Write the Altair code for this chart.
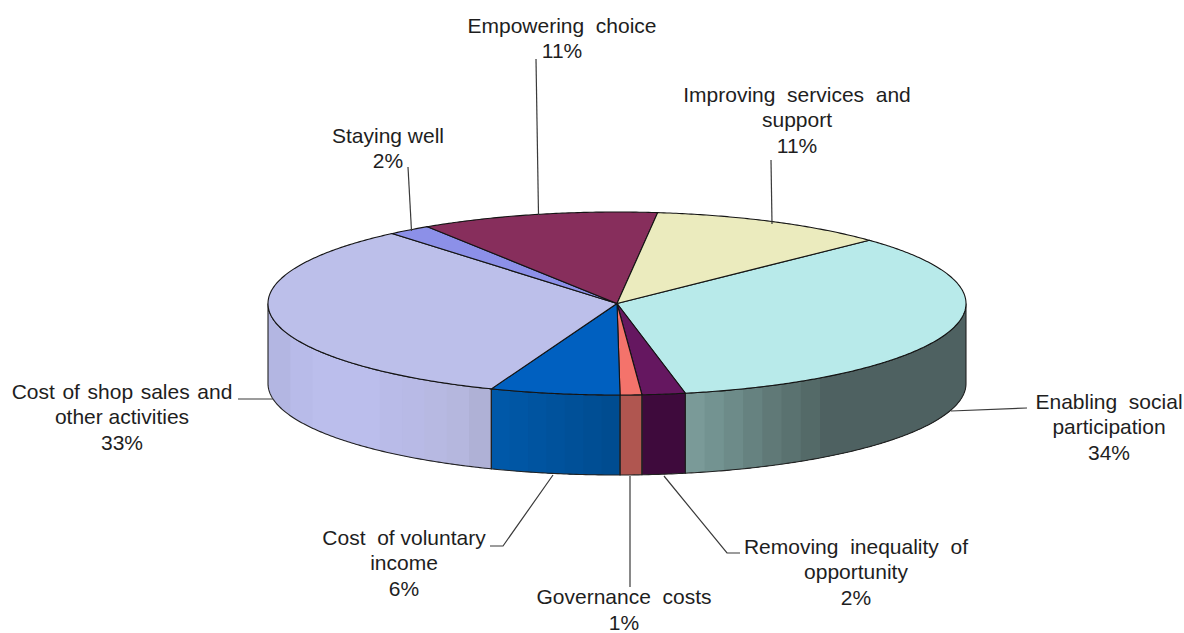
import numpy as np
import pandas as pd
import altair as alt

# Expenditure shares, clockwise from the upper right of the pie
names = [
    ["Enabling\u00a0 social", "participation"],
    ["Removing\u00a0 inequality\u00a0 of", "opportunity"],
    ["Governance\u00a0 costs"],
    ["Cost\u00a0 of voluntary", "income"],
    ["Cost \u200aof \u200ashop \u200asales \u200aand", "other activities"],
    ["Staying well"],
    ["Empowering\u00a0 choice"],
    ["Improving\u00a0 services\u00a0 and", "support"],
]
shares = [34, 2, 1, 6, 33, 2, 11, 11]

top_colors = ["#B8EAEA", "#651760", "#F4736B", "#0060C0",
              "#BCBFEA", "#8C90E8", "#872E5C", "#EBEBBE"]
# Wall shading per slice, left to right across the visible rim
wall_shades = [
    ["#7A9A98", "#739391", "#6D8B89", "#668280", "#607977", "#5A7270", "#546A68", "#4E6161"],
    ["#3E0A3C"],
    ["#B05650"],
    ["#0058A8", "#0056A4", "#0054A0", "#00529C", "#005098", "#004E94", "#004C90", "#004A8C"],
    ["#B3B6E2", "#B8BBE9", "#BBBEEC", "#BBBEEC", "#BBBEEC", "#B9BBE8",
     "#B8BAE6", "#B7B9E2", "#B5B7DE", "#AFB1D6", "#A9ABCE"],
    [], [], [],
]
# Share of the rim width taken by the stepped bands on each wall
wall_step_span = [0.48, 1.0, 1.0, 1.0, 1.0, 1.0, 1.0, 1.0]

# Pie geometry on the page
CX, CY, RX, RY, DEPTH = 617.0, 303.5, 349.0, 91.5, 80.0
START_DEG = 43.7

# Label placement: centre x, y of first line, line spacing
label_pos = [(1109, 402.7), (856, 547.7), (624, 598.2), (404, 538.7),
             (122, 392.7), (388, 136.7), (562, 26.7), (797, 95.7)]
LINE_STEP = 25.5

# Leader lines, one polyline per slice
leaders = [
    [(951, 411), (1027, 408)],
    [(664, 476), (727, 553), (740, 553)],
    [(630, 476), (630, 587)],
    [(553, 475), (503, 546), (490, 546)],
    [(238, 399), (273, 399)],
    [(408, 167), (411.5, 231)],
    [(536, 59), (538.5, 215)],
    [(771, 160), (772, 224)],
]


def rim(t_deg, drop=0.0):
    t = np.radians(t_deg)
    return CX + RX * np.cos(t), CY - RY * np.sin(t) + drop


def rim_angle(x):
    return -np.degrees(np.arccos(np.clip((x - CX) / RX, -1, 1)))


tops, slats, outlines, lines, labels = [], [], [], [], []
edges = START_DEG - np.cumsum([0] + shares) * 3.6

for i, (a, b) in enumerate(zip(edges[:-1], edges[1:])):
    # top face: wedge from the centre around the arc
    ts = np.linspace(a, b, max(3, int((a - b) * 2)))
    pts = [(CX, CY)] + [rim(t) for t in ts] + [(CX, CY)]
    tops += [dict(poly=i, seq=k, x=p[0], y=p[1], fill=top_colors[i]) for k, p in enumerate(pts)]

    # wall: only the front half of the rim
    vis_hi = min(a, 0.0)
    vis_lo = max(b, -180.0)
    if vis_hi <= vis_lo or not wall_shades[i]:
        continue
    ts = np.linspace(vis_hi, vis_lo, max(3, int((vis_hi - vis_lo) * 2)))
    wall = [rim(t) for t in ts] + [rim(t, DEPTH) for t in ts[::-1]]
    wall.append(wall[0])
    outlines += [dict(poly=i, seq=k, x=p[0], y=p[1]) for k, p in enumerate(wall)]

    # shading bands: each runs to the wall's right end and the next paints over it
    shades = wall_shades[i]
    xl, xr = rim(vis_lo)[0], rim(vis_hi)[0]
    x_span = xl + (xr - xl) * wall_step_span[i]
    bounds = np.linspace(xl, x_span, len(shades))
    for s, color in enumerate(shades):
        tt = np.linspace(rim_angle(bounds[s]), rim_angle(xr), 60)
        band = [rim(t) for t in tt] + [rim(t, DEPTH) for t in tt[::-1]]
        band.append(band[0])
        slats += [dict(poly=f"{i}-{s:02d}", seq=k, x=p[0], y=p[1], fill=color) for k, p in enumerate(band)]

for i, path in enumerate(leaders):
    lines += [dict(poly=i, seq=k, x=p[0], y=p[1]) for k, p in enumerate(path)]

for i, (cx, y0) in enumerate(label_pos):
    rows = names[i] + [f"{shares[i]}%"]
    labels += [dict(x=cx, y=y0 + k * LINE_STEP, text=t) for k, t in enumerate(rows)]

x_enc = alt.X("x:Q", scale=alt.Scale(domain=[0, 1184], nice=False, zero=False), axis=None)
y_enc = alt.Y("y:Q", scale=alt.Scale(domain=[633, 0], nice=False, zero=False), axis=None)


def polygons(rows, **mark):
    return alt.Chart(pd.DataFrame(rows)).mark_line(interpolate="linear", **mark).encode(
        x=x_enc, y=y_enc,
        fill=alt.Fill("fill:N", scale=None, legend=None),
        detail="poly:N",
        order="seq:Q",
    )


def strokes(rows, **mark):
    return alt.Chart(pd.DataFrame(rows)).mark_line(interpolate="linear", **mark).encode(
        x=x_enc, y=y_enc, detail="poly:N", order="seq:Q",
    )


chart = alt.layer(
    polygons(slats, strokeWidth=0, stroke="transparent"),
    strokes(outlines, stroke="#222222", strokeWidth=1.1),
    polygons(tops, stroke="#141414", strokeWidth=1.1),
    strokes(lines, stroke="#3a3a3a", strokeWidth=1.2),
    alt.Chart(pd.DataFrame(labels)).mark_text(
        font="Liberation Sans", fontSize=21, color="#1e1e1e", align="center", baseline="middle"
    ).encode(x=x_enc, y=y_enc, text="text:N"),
).properties(
    width=1184, height=633, padding=0, background="white",
    autosize=alt.AutoSizeParams(type="none"),
).configure_view(stroke=None)

chart.save("out.html", embed_options={"renderer": "svg", "actions": False})
